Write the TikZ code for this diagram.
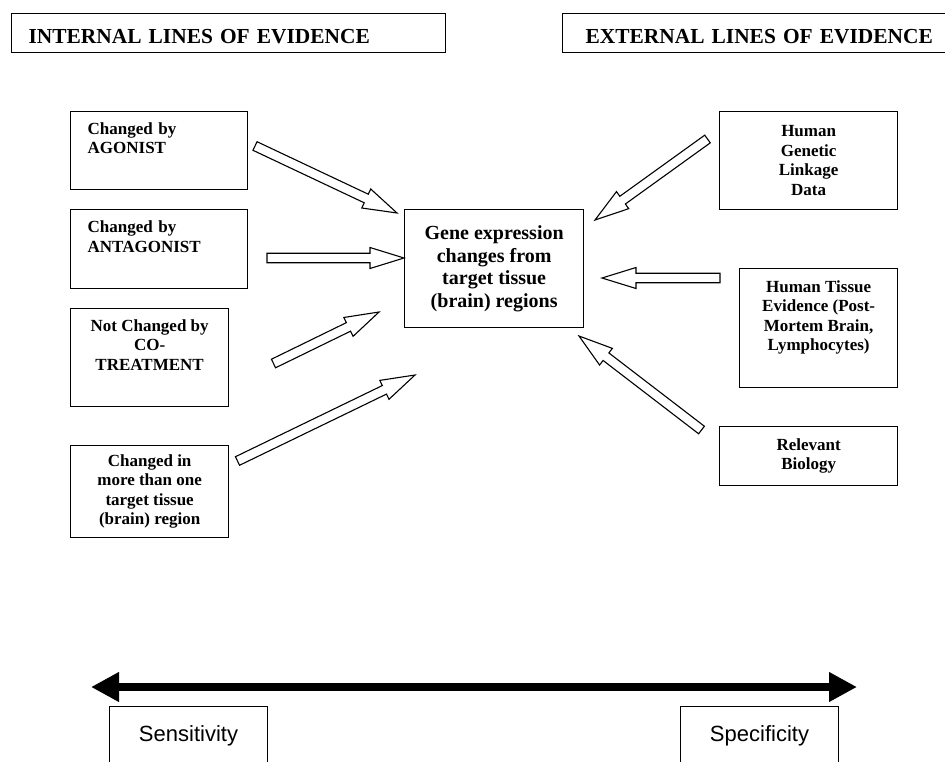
\documentclass[tikz,border=0pt]{standalone}
\usepackage{fontspec}
\setmainfont{Liberation Serif}
\newfontfamily\arialfont{Liberation Sans}
\usetikzlibrary{arrows.meta,calc,positioning}
\tikzset{
	box/.style={draw, line width=1.3pt, anchor=north west, inner ysep=2pt,
		font=\fontsize{17}{19.5}\selectfont\bfseries},
	headbox/.style={box, inner xsep=17pt, align=left, minimum height=39pt,
		text height=20pt, text depth=0pt, font=\fontsize{21.4}{25}\selectfont\bfseries},
	leftbox/.style={box, inner xsep=17pt, align=left},
	midbox/.style={box, inner xsep=4pt, align=center},
	genebox/.style={box, inner xsep=4pt, align=center, font=\fontsize{20}{22.5}\selectfont\bfseries},
	endbox/.style={draw, line width=1pt, anchor=north west, minimum width=158pt,
		inner ysep=19pt, text height=16pt, text depth=40pt,
		font=\arialfont\fontsize{22}{26}\selectfont},
	hollow/.style={draw, fill=white, line width=1.1pt, line join=miter},
	rangeline/.style={line width=8pt,
		{Triangle[length=28pt,width=28pt]}-{Triangle[length=28pt,width=28pt]}},
}
% hollow block arrow from #1 (tail) to #2 (tip)
\newcommand{\hollowarrow}[2]{%
	\coordinate (neck) at ($(#2)!34pt!(#1)$);
	\draw[hollow] ($(#1)!4.75pt!90:(#2)$) -- ($(neck)!4.75pt!-90:(#1)$)
		-- ($(neck)!10.5pt!-90:(#1)$) -- (#2) -- ($(neck)!10.5pt!90:(#1)$)
		-- ($(neck)!4.75pt!90:(#1)$) -- ($(#1)!4.75pt!-90:(#2)$) -- cycle;
}

\begin{document}
\begin{tikzpicture}[x=1pt,y=-1pt]
	\useasboundingbox (0,0) rectangle (945,761);
	% headings
	\node[headbox, text width=400pt] (intl) at (11,13) {INTERNAL LINES OF EVIDENCE};
	\node[headbox, text width=360pt, inner xsep=23pt] (extl) at (562,13) {EXTERNAL LINES OF EVIDENCE};
	% internal evidence
	\node[leftbox, text width=143pt, minimum height=78pt] (ago) at (70,111) {Changed by\\AGONIST\\\strut};
	\node[leftbox, text width=143pt, minimum height=79pt] (anta) at (70,209) {Changed by\\ANTAGONIST\\\strut};
	\node[midbox, minimum width=158pt, minimum height=98pt] (cotr) at (70,308) {Not Changed by\\CO-\\TREATMENT\\\strut};
	\node[midbox, minimum width=158pt, minimum height=92pt] (multi) at (70,445) {Changed in\\more than one\\target tissue\\(brain) region};
	% centre
	\node[genebox, minimum width=179pt, minimum height=118pt] (gene) at (404,209) {Gene expression\\changes from\\target tissue\\(brain) regions};
	% external evidence
	\node[midbox, minimum width=178pt, minimum height=98pt] (link) at (719,111) {Human\\Genetic\\Linkage\\Data};
	\node[midbox, minimum width=158pt, minimum height=119pt] (tiss) at (739,268) {Human Tissue\\Evidence (Post-\\Mortem Brain,\\Lymphocytes)\\\strut};
	\node[midbox, minimum width=178pt, minimum height=59pt] (bio) at (719,426) {Relevant\\Biology};
	% block arrows
	\coordinate (t1) at (255,146); \coordinate (h1) at (397,213);
	\coordinate (t2) at (267,258); \coordinate (h2) at (404,258);
	\coordinate (t3) at (273.5,363.5); \coordinate (h3) at (379,312);
	\coordinate (t4) at (237.5,461); \coordinate (h4) at (415,375);
	\coordinate (t5) at (707.5,139); \coordinate (h5) at (595,220);
	\coordinate (t6) at (720,278); \coordinate (h6) at (602,278);
	\coordinate (t7) at (701.5,430); \coordinate (h7) at (579,336);
	\foreach \i in {1,...,7}
		{\hollowarrow{t\i}{h\i}}
	% sensitivity / specificity
	\coordinate (sl) at (91,687);
	\coordinate (sr) at (857,687);
	\draw[rangeline] (sl) -- (sr);
	\node[endbox] (sens) at (109,706) {Sensitivity};
	\node[endbox] (spec) at (680,706) {Specificity};
\end{tikzpicture}
\end{document}
